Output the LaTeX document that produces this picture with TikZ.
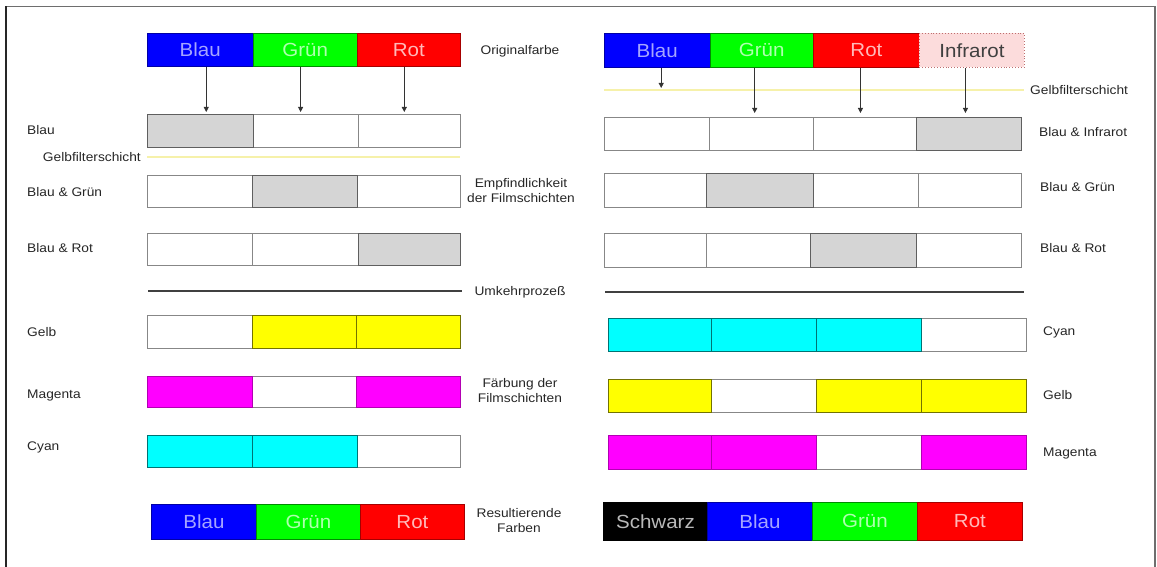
\documentclass[tikz,border=0pt]{standalone}
\usepackage{fontspec}
\setmainfont{Liberation Sans}
\newfontfamily\labfont[FakeStretch=1.1]{Liberation Sans}
\newfontfamily\barfont[FakeStretch=1.08]{Liberation Sans}
\usetikzlibrary{arrows.meta}

\definecolor{cellline}{RGB}{135,135,135}
\definecolor{shade}{RGB}{213,213,213}
\definecolor{shadeline}{RGB}{95,95,95}
\definecolor{cblue}{RGB}{0,0,255}
\definecolor{cgreen}{RGB}{0,255,0}
\definecolor{cred}{RGB}{255,0,0}
\definecolor{cyellow}{RGB}{255,255,0}
\definecolor{cmagenta}{RGB}{255,0,255}
\definecolor{ccyan}{RGB}{0,255,255}
\definecolor{tblue}{RGB}{165,165,255}
\definecolor{tgreen}{RGB}{175,255,175}
\definecolor{tred}{RGB}{255,185,185}
\definecolor{tgray}{RGB}{185,185,185}
\definecolor{irfill}{RGB}{252,220,220}
\definecolor{irline}{RGB}{190,110,110}
\definecolor{filterline}{RGB}{246,241,170}
\definecolor{framegray}{RGB}{110,110,110}

% one cell of a colour strip: name, style, x1, y1, x2, y2, text
\newcommand\cellnode[7]{%
  \node[#2, minimum width={#5pt-#3pt}, minimum height={#6pt-#4pt}] (#1) at (#3,#4) {#7};}

\begin{document}
\begin{tikzpicture}[x=1pt, y=-1pt,
  cell/.style={draw=cellline, line width=0.9pt, inner sep=0pt, anchor=north west, fill=white},
  sens/.style={cell, fill=shade, draw=shadeline},
  bar/.style={cell, font=\barfont\fontsize{19}{22}\selectfont},
  bluebar/.style={bar, fill=cblue, draw=cblue!65!black, text=tblue},
  greenbar/.style={bar, fill=cgreen, draw=cgreen!55!black, text=tgreen},
  redbar/.style={bar, fill=cred, draw=cred!65!black, text=tred},
  blackbar/.style={bar, fill=black, draw=black, text=tgray},
  irbar/.style={bar, fill=irfill, draw=irline, dotted, text=black!75},
  yellowcell/.style={cell, fill=cyellow, draw=cyellow!45!black},
  magentacell/.style={cell, fill=cmagenta, draw=cmagenta!70!black},
  cyancell/.style={cell, fill=ccyan, draw=ccyan!45!black},
  lab/.style={inner sep=0pt, font=\labfont\fontsize{12.5}{15}\selectfont, text=black!85},
  midlab/.style={lab, align=center},
  arr/.style={draw=black!80, line width=0.8pt, -{Triangle[width=5pt,length=5pt]}},
  filter/.style={draw=filterline, line width=2pt},
  sepline/.style={draw=black!75, line width=1.4pt}
]
\useasboundingbox (0,0) rectangle (1157,567);

% frame
\draw[framegray, line width=1.4pt] (6,6.5) -- (1155,6.5) -- (1155,567);
\draw[black!85, line width=1.4pt] (6,567) -- (6,6.5);

% ---------------- left half ----------------
\cellnode{LOa}{bluebar}{147}{33}{252.6}{66}{Blau}
\cellnode{LOb}{greenbar}{252.6}{33}{356.7}{66}{Grün}
\cellnode{LOc}{redbar}{356.7}{33}{460}{66}{Rot}

\cellnode{LBb}{cell}{252.5}{114}{358}{147}{}
\cellnode{LBc}{cell}{358}{114}{460}{147}{}
\cellnode{LBa}{sens}{147}{114}{252.5}{147}{}

\coordinate (lf1) at (147,157);
\coordinate (lf2) at (460,157);
\draw[filter] (lf1) -- (lf2);

\cellnode{LGa}{cell}{147}{175}{252}{207}{}
\cellnode{LGc}{cell}{357}{175}{460}{207}{}
\cellnode{LGb}{sens}{252}{175}{357}{207}{}

\cellnode{LRa}{cell}{147}{233}{252}{265}{}
\cellnode{LRb}{cell}{252}{233}{358}{265}{}
\cellnode{LRc}{sens}{358}{233}{460}{265}{}

\coordinate (ls1) at (148,291);
\coordinate (ls2) at (462,291);
\draw[sepline] (ls1) -- (ls2);

\cellnode{LYa}{cell}{147}{315}{252}{348}{}
\cellnode{LYb}{yellowcell}{252}{315}{356}{348}{}
\cellnode{LYc}{yellowcell}{356}{315}{460}{348}{}

\cellnode{LMb}{cell}{252}{376}{356}{407}{}
\cellnode{LMa}{magentacell}{147}{376}{252}{407}{}
\cellnode{LMc}{magentacell}{356}{376}{460}{407}{}

\cellnode{LCc}{cell}{357}{435}{460}{467}{}
\cellnode{LCa}{cyancell}{147}{435}{252}{467}{}
\cellnode{LCb}{cyancell}{252}{435}{357}{467}{}

\cellnode{LEa}{bluebar}{151}{504}{256}{539}{Blau}
\cellnode{LEb}{greenbar}{256}{504}{360}{539}{Grün}
\cellnode{LEc}{redbar}{360}{504}{464}{539}{Rot}

\draw[arr, shorten >=2pt] ([xshift=6pt]LOa.south) -- ([xshift=6pt]LOa.south |- LBa.north);
\draw[arr, shorten >=2pt] ([xshift=-4.5pt]LOb.south) -- ([xshift=-4.5pt]LOb.south |- LBb.north);
\draw[arr, shorten >=2pt] ([xshift=-4.5pt]LOc.south) -- ([xshift=-4.5pt]LOc.south |- LBc.north);

% left labels
\node[lab, anchor=west] (tl1) at (27,130) {Blau};
\node[lab, anchor=east] (tl2) at (141,157) {Gelbfilterschicht};
\node[lab, anchor=west] (tl3) at (27,192) {Blau \& Grün};
\node[lab, anchor=west] (tl4) at (27,248) {Blau \& Rot};
\node[lab, anchor=west] (tl5) at (27,332) {Gelb};
\node[lab, anchor=west] (tl6) at (27,395) {Magenta};
\node[lab, anchor=west] (tl7) at (27,447) {Cyan};

% centre labels
\node[midlab] (tm1) at (520,51) {Originalfarbe};
\node[midlab] (tm2) at (521,191) {Empfindlichkeit\\der Filmschichten};
\node[midlab] (tm3) at (520,292) {Umkehrprozeß};
\node[midlab] (tm4) at (520,391) {Färbung der\\Filmschichten};
\node[midlab] (tm5) at (519,521) {Resultierende\\Farben};

% ---------------- right half ----------------
\cellnode{ROa}{bluebar}{604}{33}{709.5}{67}{Blau}
\cellnode{ROb}{greenbar}{709.5}{33}{813}{67}{Grün}
\cellnode{ROc}{redbar}{813}{33}{919}{67}{Rot}
\cellnode{ROd}{irbar}{919}{33}{1024}{67}{Infrarot}

\coordinate (rf1) at (604,90);
\coordinate (rf2) at (1024,90);
\draw[filter] (rf1) -- (rf2);

\cellnode{RIa}{cell}{604}{117}{709}{150}{}
\cellnode{RIb}{cell}{709}{117}{813}{150}{}
\cellnode{RIc}{cell}{813}{117}{916}{150}{}
\cellnode{RId}{sens}{916}{117}{1021}{150}{}

\cellnode{RGa}{cell}{604}{173}{706}{207}{}
\cellnode{RGc}{cell}{813}{173}{918}{207}{}
\cellnode{RGd}{cell}{918}{173}{1021}{207}{}
\cellnode{RGb}{sens}{706}{173}{813}{207}{}

\cellnode{RRa}{cell}{604}{233}{706}{267}{}
\cellnode{RRb}{cell}{706}{233}{810}{267}{}
\cellnode{RRd}{cell}{916}{233}{1021}{267}{}
\cellnode{RRc}{sens}{810}{233}{916}{267}{}

\coordinate (rs1) at (605,292);
\coordinate (rs2) at (1024,292);
\draw[sepline] (rs1) -- (rs2);

\cellnode{RCd}{cell}{921}{318}{1026}{351}{}
\cellnode{RCa}{cyancell}{608}{318}{711}{351}{}
\cellnode{RCb}{cyancell}{711}{318}{816}{351}{}
\cellnode{RCc}{cyancell}{816}{318}{921}{351}{}

\cellnode{RYb}{cell}{711}{379}{816}{412}{}
\cellnode{RYa}{yellowcell}{608}{379}{711}{412}{}
\cellnode{RYc}{yellowcell}{816}{379}{921}{412}{}
\cellnode{RYd}{yellowcell}{921}{379}{1026}{412}{}

\cellnode{RMc}{cell}{816}{435}{921}{469}{}
\cellnode{RMa}{magentacell}{608}{435}{711}{469}{}
\cellnode{RMb}{magentacell}{711}{435}{816}{469}{}
\cellnode{RMd}{magentacell}{921}{435}{1026}{469}{}

\cellnode{REa}{blackbar}{603}{502}{707}{540}{Schwarz}
\cellnode{REb}{bluebar}{707}{502}{812}{540}{Blau}
\cellnode{REc}{greenbar}{812}{502}{917}{540}{Grün}
\cellnode{REd}{redbar}{917}{502}{1022}{540}{Rot}

\draw[arr, shorten >=2pt] ([xshift=4pt]ROa.south) -- ([xshift=4pt]ROa.south |- rf1);
\draw[arr, shorten >=4pt] ([xshift=-7pt]ROb.south) -- ([xshift=-7pt]ROb.south |- RIb.north);
\draw[arr, shorten >=4pt] ([xshift=-6pt]ROc.south) -- ([xshift=-6pt]ROc.south |- RIc.north);
\draw[arr, shorten >=4pt] ([xshift=-6.5pt]ROd.south) -- ([xshift=-6.5pt]ROd.south |- RId.north);

% right labels
\node[lab, anchor=west] (tr1) at (1030,90) {Gelbfilterschicht};
\node[lab, anchor=west] (tr2) at (1039,132) {Blau \& Infrarot};
\node[lab, anchor=west] (tr3) at (1040,187) {Blau \& Grün};
\node[lab, anchor=west] (tr4) at (1040,248) {Blau \& Rot};
\node[lab, anchor=west] (tr5) at (1043,332) {Cyan};
\node[lab, anchor=west] (tr6) at (1043,395) {Gelb};
\node[lab, anchor=west] (tr7) at (1043,453) {Magenta};
\end{tikzpicture}
\end{document}
